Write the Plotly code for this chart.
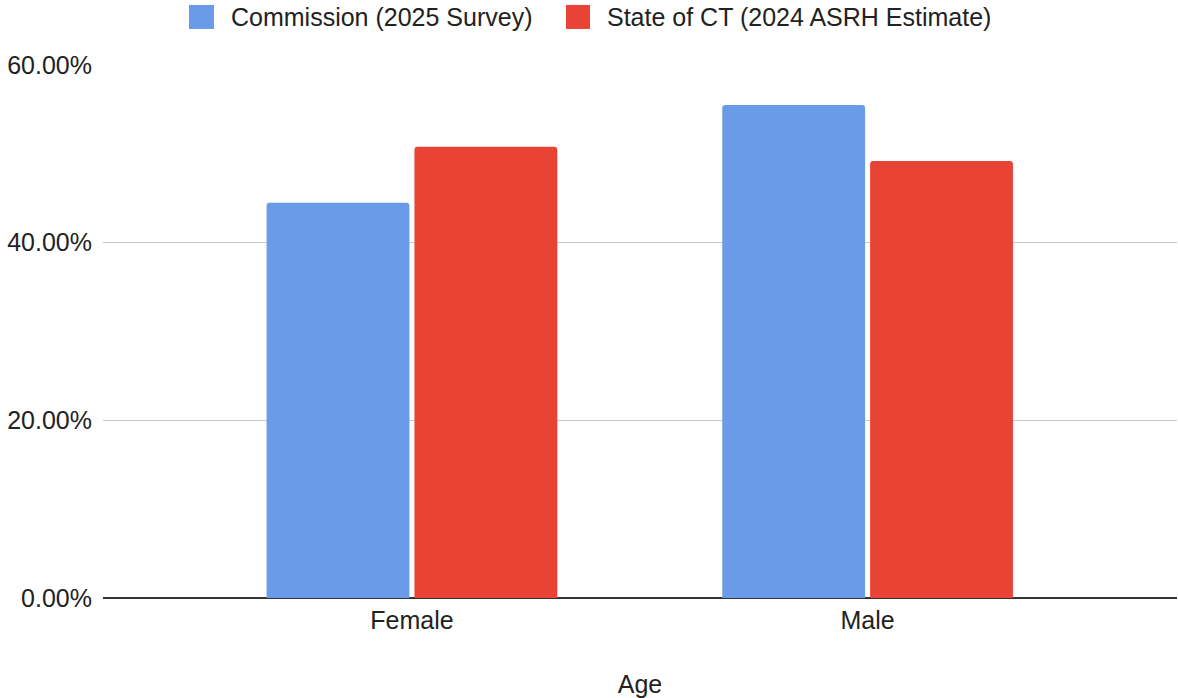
import plotly.graph_objects as go

categories = ["Female", "Male"]
commission_2025 = [0.445, 0.555]
state_ct_2024 = [0.508, 0.492]
series_names = ["Commission (2025 Survey)", "State of CT (2024 ASRH Estimate)"]
y_ticks = [0.0, 0.2, 0.4, 0.6]
x_title = "Age"

BLUE = "#6a9be8"
RED = "#e84335"
FONT = "Liberation Sans, Arial, sans-serif"
TXT = "#222222"
FS = 25

fig = go.Figure()
fig.add_trace(go.Bar(x=categories, y=commission_2025, name=series_names[0],
                     marker=dict(color=BLUE, cornerradius=3, line=dict(width=0))))
fig.add_trace(go.Bar(x=categories, y=state_ct_2024, name=series_names[1],
                     marker=dict(color=RED, cornerradius=3, line=dict(width=0))))

# custom legend (paper coords relative to plot area 103..1177 x, 65..597.5 y)
def px_x(p):
    return (p - 103) / 1074.0

def px_y(p):
    return (597.5 - p) / 532.5

legend_items = [
    (189, 214, 231, BLUE, series_names[0]),
    (566, 590, 607, RED, series_names[1]),
]
for x0, x1, tx, col, name in legend_items:
    fig.add_shape(type="rect", xref="paper", yref="paper",
                  x0=px_x(x0), x1=px_x(x1), y0=px_y(29), y1=px_y(5),
                  fillcolor=col, line=dict(width=0))
    fig.add_annotation(xref="paper", yref="paper", x=px_x(tx), y=px_y(17),
                       xanchor="left", yanchor="middle", text=name, showarrow=False,
                       font=dict(family=FONT, size=FS, color=TXT), xshift=-2)

fig.update_layout(
    width=1178, height=698,
    margin=dict(l=103, r=1, t=65, b=100),
    paper_bgcolor="white", plot_bgcolor="white",
    barmode="group", bargap=0.351, bargroupgap=0.034,
    showlegend=False,
    font=dict(family=FONT, size=FS, color=TXT),
)
fig.update_xaxes(
    type="category", categoryorder="array", categoryarray=categories,
    range=[-0.678, 1.679], showgrid=False, showline=False, zeroline=False,
    ticklabelstandoff=5,
    tickfont=dict(family=FONT, size=FS, color=TXT),
    title=dict(text=x_title, font=dict(family=FONT, size=FS, color=TXT), standoff=42),
)
fig.update_yaxes(
    range=[0, 0.6], tickvals=y_ticks, tickformat=".2%",
    showgrid=True, gridcolor="#c8c8c8", gridwidth=1.3,
    zeroline=True, zerolinecolor="#333333", zerolinewidth=2,
    showline=False, ticklabelstandoff=10,
    tickfont=dict(family=FONT, size=FS, color=TXT),
)

fig.write_html(
    "out.html",
    config={"displayModeBar": False},
    post_script="document.body.style.margin='0';document.body.style.overflow='hidden';",
)
